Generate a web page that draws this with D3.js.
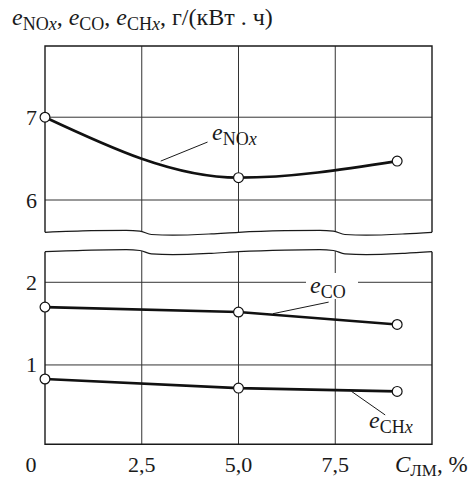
<!DOCTYPE html>
<html>
<head>
<meta charset="utf-8">
<script src="https://cdn.jsdelivr.net/npm/d3@7"></script>
<style>
  body { margin: 0; background: #fff; }
  svg text { font-family: "Liberation Serif", "DejaVu Serif", serif; fill: #1a1a1a; }
</style>
</head>
<body>
<div id="chart"></div>
<script>
// C_ЛМ, % and emissions, g/(kW h)
const cLM = [0, 5, 9.1];
const eNOx = [7.0, 6.27, 6.47];
const eCO = [1.70, 1.64, 1.49];
const eCHx = [0.83, 0.72, 0.68];
const xTicks = [0, 2.5, 5, 7.5];
const xTickLabels = ["0", "2,5", "5,0", "7,5"];
const yTicksTop = [6, 7];
const yTicksBottom = [1, 2];

const W = 475, H = 479;
const left = 45, right = 432;

const svg = d3.select("#chart").append("svg")
  .attr("width", W).attr("height", H);

const x = d3.scaleLinear().domain([0, 10]).range([left, right]);

// two broken panels, same units per px
const yTop = d3.scaleLinear().domain([5.61, 7.86]).range([232.3, 46]);
const yBot = d3.scaleLinear().domain([0.04, 2.37]).range([444.3, 251.7]);

const ink = "#1a1a1a";

// wavy break line offsets (repeats every 5 units)
const wave = [[0, 0], [1.2, -1.6], [2.1, -2], [2.45, -1.2], [2.75, 2.2], [3.3, 2.9], [4.3, 1.6], [5, 0]];
function wavePts(yBase) {
  const pts = [];
  [0, 5].forEach(off => wave.forEach((p, i) => {
    if (off > 0 && i === 0) return;
    pts.push([x(p[0] + off), yBase + p[1]]);
  }));
  return pts;
}
function waveY(pts, px) {
  for (let i = 1; i < pts.length; i++) {
    if (px <= pts[i][0] + 0.01) {
      const t = (px - pts[i - 1][0]) / (pts[i][0] - pts[i - 1][0]);
      return pts[i - 1][1] + t * (pts[i][1] - pts[i - 1][1]);
    }
  }
  return pts[pts.length - 1][1];
}
const waveLine = d3.line().curve(d3.curveMonotoneX);

const topWave = wavePts(yTop.range()[0]);
const botWave = wavePts(yBot.range()[1]);

// vertical grid lines
const g = svg.append("g");
[2.5, 5, 7.5].forEach(v => {
  g.append("line").attr("x1", x(v)).attr("x2", x(v))
    .attr("y1", yTop.range()[1]).attr("y2", waveY(topWave, x(v)))
    .attr("stroke", "#333").attr("stroke-width", 1);
  g.append("line").attr("x1", x(v)).attr("x2", x(v))
    .attr("y1", waveY(botWave, x(v))).attr("y2", yBot.range()[0])
    .attr("stroke", "#333").attr("stroke-width", 1);
});

// horizontal grid lines
yTicksTop.forEach(v => {
  g.append("line").attr("x1", left).attr("x2", right)
    .attr("y1", yTop(v)).attr("y2", yTop(v))
    .attr("stroke", "#333").attr("stroke-width", 1);
});
yTicksBottom.forEach(v => {
  g.append("line").attr("x1", left).attr("x2", right)
    .attr("y1", yBot(v)).attr("y2", yBot(v))
    .attr("stroke", "#333").attr("stroke-width", 1);
});

// frames
const frame = svg.append("g").attr("fill", "none").attr("stroke", ink).attr("stroke-width", 1.4);
frame.append("path").attr("d",
  `M${left},${topWave[0][1]} V${yTop.range()[1]} H${right} V${topWave[topWave.length - 1][1]}`);
frame.append("path").attr("d", waveLine(topWave)).attr("stroke-width", 1.2);
frame.append("path").attr("d",
  `M${left},${botWave[0][1]} V${yBot.range()[0]} H${right} V${botWave[botWave.length - 1][1]}`);
frame.append("path").attr("d", waveLine(botWave)).attr("stroke-width", 1.2);

// y tick labels
yTicksTop.forEach(v => {
  svg.append("text").attr("x", 37).attr("y", yTop(v) + 7.5)
    .attr("text-anchor", "end").attr("font-size", 22).text(v);
});
yTicksBottom.forEach(v => {
  svg.append("text").attr("x", 37).attr("y", yBot(v) + 7.5)
    .attr("text-anchor", "end").attr("font-size", 22).text(v);
});

// x tick labels
xTicks.forEach((v, i) => {
  svg.append("text").attr("x", v === 0 ? x(v) - 14 : x(v)).attr("y", 472)
    .attr("text-anchor", "middle").attr("font-size", 22).text(xTickLabels[i]);
});
const xt = svg.append("text").attr("x", 395).attr("y", 472).attr("font-size", 23);
xt.append("tspan").attr("font-style", "italic").text("C");
xt.append("tspan").attr("font-size", 17).attr("dy", 4).text("ЛМ");
xt.append("tspan").attr("dy", -4).text(", %");

// subscripted symbol
function sub(t, main, subParts, subSize) {
  t.append("tspan").attr("font-style", "italic").text(main);
  let first = true;
  subParts.forEach(([s, it]) => {
    const ts = t.append("tspan").attr("font-size", subSize).text(s);
    if (first) { ts.attr("dy", 5); first = false; }
    if (it) ts.attr("font-style", "italic");
  });
}

// y title
const yt = svg.append("text").attr("x", 12).attr("y", 25).attr("font-size", 24);
sub(yt, "e", [["NO", false], ["x", true]], 18);
yt.append("tspan").attr("dy", -5).text(", ");
sub(yt, "e", [["CO", false]], 18);
yt.append("tspan").attr("dy", -5).text(", ");
sub(yt, "e", [["CH", false], ["x", true]], 18);
yt.append("tspan").attr("dy", -5).text(", г/(кВт . ч)");

// leader lines + series labels
const labels = [
  { y: yTop, from: [2.99, 6.47], to: [4.2, 6.70], tx: 212, ty: 140, parts: [["NO", false], ["x", true]] },
  { y: yBot, from: [5.89, 1.62], to: [7.33, 1.76], tx: 310, ty: 293, parts: [["CO", false]], mask: true },
  { y: yBot, from: [7.92, 0.68], to: [8.79, 0.395], tx: 369, ty: 428, parts: [["CH", false], ["x", true]] }
];
labels.forEach(l => {
  if (l.mask) {
    svg.append("rect").attr("x", l.tx - 4).attr("y", l.ty - 20)
      .attr("width", 52).attr("height", 26).attr("fill", "#fff");
  }
  svg.append("line")
    .attr("x1", x(l.from[0])).attr("y1", l.y(l.from[1]))
    .attr("x2", x(l.to[0])).attr("y2", l.y(l.to[1]))
    .attr("stroke", ink).attr("stroke-width", 1);
  const t = svg.append("text").attr("x", l.tx).attr("y", l.ty).attr("font-size", 24);
  sub(t, "e", l.parts, 18);
});

// series
const series = [
  { y: yTop, vals: eNOx, curve: d3.curveMonotoneX },
  { y: yBot, vals: eCO, curve: d3.curveLinear },
  { y: yBot, vals: eCHx, curve: d3.curveLinear }
];
series.forEach(s => {
  const pts = cLM.map((c, i) => [c, s.vals[i]]);
  const line = d3.line().x(d => x(d[0])).y(d => s.y(d[1])).curve(s.curve);
  svg.append("path").attr("d", line(pts))
    .attr("fill", "none").attr("stroke", "#111").attr("stroke-width", 2.6);
  svg.selectAll(null).data(pts).enter().append("circle")
    .attr("cx", d => x(d[0])).attr("cy", d => s.y(d[1]))
    .attr("r", 4.9).attr("fill", "#fff").attr("stroke", "#111").attr("stroke-width", 1.2);
});
</script>
</body>
</html>
